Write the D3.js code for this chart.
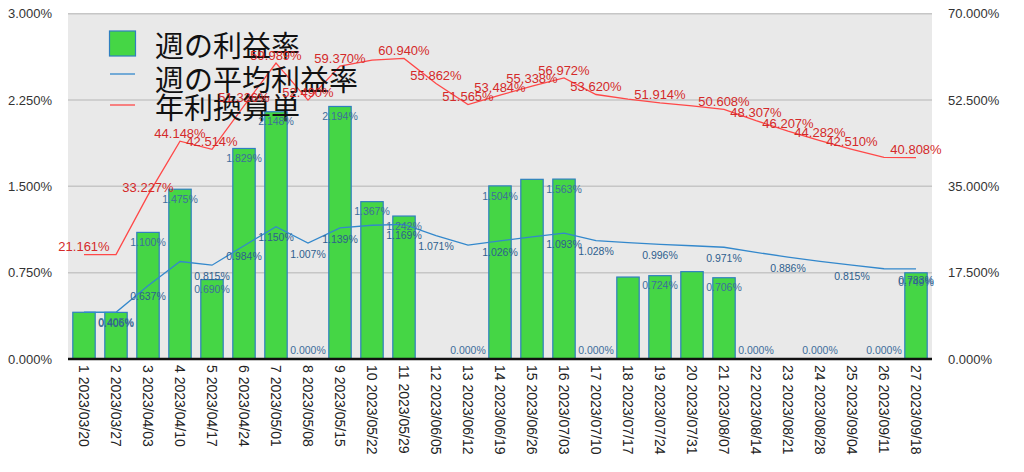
<!DOCTYPE html>
<html><head><meta charset="utf-8">
<script src="https://cdn.jsdelivr.net/npm/d3@7"></script>
<style>
html,body{margin:0;padding:0;background:#fff;}
svg{display:block;}
</style></head>
<body>
<svg id="chart" width="1024" height="472"></svg>
<script>
// ---- data ----
const xLabels = ["1 2023/03/20","2 2023/03/27","3 2023/04/03","4 2023/04/10","5 2023/04/17","6 2023/04/24","7 2023/05/01","8 2023/05/08","9 2023/05/15","10 2023/05/22","11 2023/05/29","12 2023/06/05","13 2023/06/12","14 2023/06/19","15 2023/06/26","16 2023/07/03","17 2023/07/10","18 2023/07/17","19 2023/07/24","20 2023/07/31","21 2023/08/07","22 2023/08/14","23 2023/08/21","24 2023/08/28","25 2023/09/04","26 2023/09/11","27 2023/09/18"];
const weekly = [0.406,0.405,1.100,1.475,0.690,1.829,2.148,0.000,2.194,1.367,1.242,0.000,0.000,1.504,1.561,1.563,0.000,0.712,0.724,0.759,0.706,0.000,0.000,0.000,0.000,0.000,0.749];
const average = [0.406,0.406,0.637,0.847,0.815,0.984,1.150,1.007,1.139,1.162,1.169,1.071,0.989,1.026,1.061,1.093,1.028,1.011,0.996,0.984,0.971,0.926,0.886,0.849,0.815,0.784,0.783];
const annual = [21.161,21.161,33.227,44.148,42.514,51.326,59.989,52.490,59.370,60.580,60.940,55.862,51.565,53.484,55.338,56.972,53.620,52.690,51.914,51.300,50.608,48.307,46.207,44.282,42.510,40.876,40.808];
const leftTicks = [0,0.75,1.5,2.25,3];
const rightTicks = [0,17.5,35,52.5,70];
const seriesNames = ["週の利益率","週の平均利益率","年利換算単"];
// weeks whose value labels are visible
const weeklyLabelWeeks = [2,3,4,5,6,7,8,9,10,11,13,14,16,17,19,21,22,24,26,27];
const averageLabelWeeks = [2,3,5,6,7,8,9,11,12,14,16,17,19,21,23,25,27];
const annualLabelWeeks = [1,3,4,5,6,7,8,9,11,12,13,14,15,16,17,19,21,22,23,24,25,27];

// ---- layout ----
const L = 68, R = 932, T = 13.7, B = 359;
const svg = d3.select("#chart");
const numFont = "'Liberation Sans', Arial, Helvetica, sans-serif";
const cjkFont = "'Noto Sans CJK JP', 'Noto Sans', sans-serif";

const x = d3.scaleBand().domain(xLabels).range([L, R]).paddingInner(0.3).paddingOuter(0.15);
const yL = d3.scaleLinear().domain([0, 3]).range([B, T]);
const yR = d3.scaleLinear().domain([0, 70]).range([B, T]);
const cx = i => x(xLabels[i]) + x.bandwidth() / 2;
const pct = d3.format(".3f");

// background
svg.append("rect").attr("x", L).attr("y", T).attr("width", R - L).attr("height", B - T).attr("fill", "#e9e9e9");

// gridlines
svg.append("g").selectAll("line").data(leftTicks).join("line")
  .attr("x1", L).attr("x2", R).attr("y1", d => yL(d)).attr("y2", d => yL(d))
  .attr("stroke", "#c6c6c6").attr("stroke-width", 1.5);

// axes
const axL = svg.append("g").attr("transform", `translate(${L},0)`)
  .call(d3.axisLeft(yL).tickValues(leftTicks).tickSize(0).tickPadding(16).tickFormat(d => pct(d) + "%"));
const axR = svg.append("g").attr("transform", `translate(${R},0)`)
  .call(d3.axisRight(yR).tickValues(rightTicks).tickSize(0).tickPadding(16).tickFormat(d => pct(d) + "%"));
[axL, axR].forEach(a => {
  a.select(".domain").remove();
  a.selectAll("text").attr("font-family", numFont).attr("font-size", 13).attr("fill", "#333");
});

// bars
svg.append("g").selectAll("rect").data(weekly).join("rect")
  .attr("x", (d, i) => x(xLabels[i])).attr("width", x.bandwidth())
  .attr("y", d => yL(d)).attr("height", d => B - yL(d))
  .attr("fill", "#45d645").attr("stroke", "#2f7fc0").attr("stroke-width", 1.2);

// x axis
const axX = svg.append("g").attr("transform", `translate(0,${B})`)
  .call(d3.axisBottom(x).tickSize(0));
axX.select(".domain").attr("stroke", "#111").attr("stroke-width", 2.5).attr("d", `M${L},0H${R}`);
axX.selectAll("text")
  .attr("transform", "rotate(90)").attr("x", 6).attr("y", 0).attr("dy", "0.35em")
  .style("text-anchor", "start").attr("font-family", numFont).attr("font-size", 14).attr("fill", "#222");

// lines
svg.append("path").datum(average)
  .attr("d", d3.line().x((d, i) => cx(i)).y(d => yL(d)))
  .attr("fill", "none").attr("stroke", "#3388cc").attr("stroke-width", 1.3);
svg.append("path").datum(annual)
  .attr("d", d3.line().x((d, i) => cx(i)).y(d => yR(d)))
  .attr("fill", "none").attr("stroke", "#ff4848").attr("stroke-width", 1.3);

// legend
const lg = svg.append("g");
lg.append("rect").attr("x", 109.5).attr("y", 31).attr("width", 26).attr("height", 25)
  .attr("fill", "#45d645").attr("stroke", "#2f7fc0").attr("stroke-width", 1.2);
lg.append("line").attr("x1", 110).attr("x2", 135).attr("y1", 74).attr("y2", 74).attr("stroke", "#3388cc").attr("stroke-width", 1.3);
lg.append("line").attr("x1", 110).attr("x2", 135).attr("y1", 105).attr("y2", 105).attr("stroke", "#ff4848").attr("stroke-width", 1.3);
const lgY = [44, 77.5, 106];
lg.selectAll("text").data(seriesNames).join("text")
  .attr("x", 155).attr("y", (d, i) => lgY[i]).attr("dominant-baseline", "central")
  .attr("font-family", cjkFont).attr("font-size", 29).attr("fill", "#111").text(d => d);

// value labels
const lbl = svg.append("g");
lbl.selectAll("text.w").data(weeklyLabelWeeks).join("text").attr("class", "w")
  .attr("x", w => cx(w - 1))
  .attr("y", w => weekly[w - 1] > 0 ? yL(weekly[w - 1]) + 10 : B - 9)
  .attr("dy", "0.35em").attr("text-anchor", "middle")
  .attr("font-family", numFont).attr("font-size", 10.5).attr("fill", "#3d6e9c")
  .text(w => pct(weekly[w - 1]) + "%");
lbl.selectAll("text.a").data(averageLabelWeeks).join("text").attr("class", "a")
  .attr("x", w => cx(w - 1)).attr("y", w => yL(average[w - 1]) + 11)
  .attr("dy", "0.35em").attr("text-anchor", "middle")
  .attr("font-family", numFont).attr("font-size", 10.5).attr("fill", "#2e5f8e")
  .text(w => pct(average[w - 1]) + "%");
lbl.selectAll("text.y").data(annualLabelWeeks).join("text").attr("class", "y")
  .attr("x", w => cx(w - 1)).attr("y", w => yR(annual[w - 1]) - 8)
  .attr("dy", "0.35em").attr("text-anchor", "middle")
  .attr("font-family", numFont).attr("font-size", 13).attr("fill", "#d42a2a")
  .text(w => pct(annual[w - 1]) + "%");
</script>
</body></html>
